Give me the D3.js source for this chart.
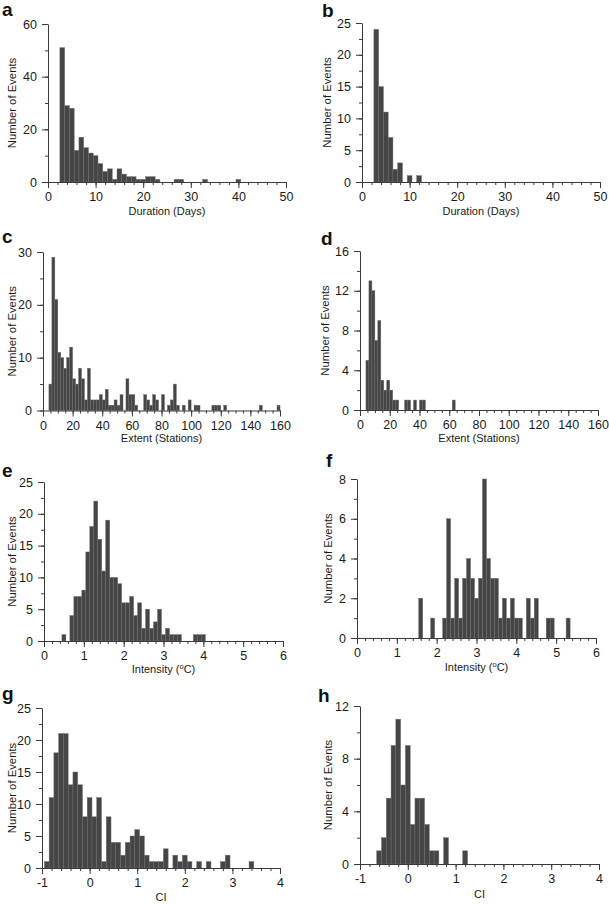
<!DOCTYPE html>
<html><head><meta charset="utf-8">
<script src="https://cdn.jsdelivr.net/npm/d3@7"></script>
<style>body{margin:0;background:#fff} svg{display:block}</style>
</head><body>
<svg id="chart" width="609" height="904"></svg>
<script>
// ---------- DATA (bin centres and counts) ----------
// a: Duration (Days), all events, bin width 1
const durationAllBins   = [3,4,5,6,7,8,9,10,11,12,13,14,15,16,17,18,19,20,21,22,23,27,28,33,40];
const durationAllCounts = [51,29,28,12,17,13,11,10,7,4,5,1,5,3,2,2,1,1,2,2,1,1,1,1,1];
// b: Duration (Days), subset, bin width 1
const durationSubBins   = [3,4,5,6,7,8,10,12];
const durationSubCounts = [24,15,11,7,2,3,1,1];
// c: Extent (Stations), all events, bin width 2
const extentAllBins   = [5,7,9,11,13,15,17,19,21,23,25,27,29,31,33,35,37,39,41,43,45,47,49,51,53,57,59,61,63,69,71,73,75,77,81,85,87,89,91,95,99,103,105,115,117,119,123,147,159];
const extentAllCounts = [5,29,21,11,10,8,10,12,6,5,8,6,2,8,2,2,2,3,2,4,1,1,2,1,3,6,3,3,1,3,2,1,3,2,3,1,2,5,1,1,2,1,1,1,1,1,1,1,1];
// d: Extent (Stations), subset, bin width 2
const extentSubBins   = [5,7,9,11,13,15,17,19,21,23,25,31,33,37,41,43,63];
const extentSubCounts = [5,13,12,7,9,3,2,3,2,1,1,1,1,1,1,1,1];
// e: Intensity (oC), all events, bin width 0.1
const intensityAllBins   = [0.5,0.7,0.8,0.9,1.0,1.1,1.2,1.3,1.4,1.5,1.6,1.7,1.8,1.9,2.0,2.1,2.2,2.3,2.4,2.5,2.6,2.7,2.8,2.9,3.0,3.1,3.2,3.3,3.4,3.8,3.9,4.0];
const intensityAllCounts = [1,4,7,7,8,14,18,22,16,11,19,10,10,9,6,6,7,4,6,2,5,2,3,5,1,2,1,1,1,1,1,1];
// f: Intensity (oC), subset, bin width 0.1
const intensitySubBins   = [1.6,1.9,2.2,2.3,2.4,2.5,2.6,2.7,2.8,2.9,3.0,3.1,3.2,3.3,3.4,3.5,3.6,3.7,3.8,3.9,4.0,4.1,4.3,4.4,4.5,4.8,4.9,5.3];
const intensitySubCounts = [2,1,1,6,1,3,1,3,4,3,2,3,8,4,3,3,1,2,1,2,1,1,2,1,2,1,1,1];
// g: CI, all events, bin width 0.1
const ciAllBins   = [-0.9,-0.8,-0.7,-0.6,-0.5,-0.4,-0.3,-0.2,-0.1,0.0,0.1,0.2,0.3,0.4,0.5,0.6,0.7,0.8,0.9,1.0,1.1,1.2,1.3,1.4,1.5,1.6,1.8,1.9,2.0,2.1,2.3,2.5,2.8,2.9,3.4];
const ciAllCounts = [1,11,18,21,21,13,15,13,8,11,8,11,1,8,4,4,2,4,5,6,5,2,1,1,1,3,2,1,2,1,1,1,1,2,1];
// h: CI, subset, bin width 0.1
const ciSubBins   = [-0.6,-0.5,-0.4,-0.3,-0.2,-0.1,0.0,0.1,0.2,0.3,0.4,0.5,0.6,0.8,1.2];
const ciSubCounts = [1,2,5,9,11,6,9,3,5,5,3,1,1,2,1];

// tick label sets
const durationTicks  = [0,10,20,30,40,50];
const extentTicks    = [0,20,40,60,80,100,120,140,160];
const intensityTicks = [0,1,2,3,4,5,6];
const ciTicks        = [-1,0,1,2,3,4];
const yTicksA = [0,20,40,60];
const yTicksB = [0,5,10,15,20,25];
const yTicksC = [0,10,20,30];
const yTicksD = [0,4,8,12,16];
const yTicksE = [0,5,10,15,20,25];
const yTicksF = [0,2,4,6,8];
const yTicksG = [0,5,10,15,20,25];
const yTicksH = [0,4,8,12];

// ---------- LAYOUT ----------
const FONT = "Arial, 'Liberation Sans', sans-serif";
const svg = d3.select("#chart");

function steps(a, b, s) {
  const n = Math.round((b - a) / s);
  return d3.range(n + 1).map(i => +(a + i * s).toFixed(6));
}

function panel(p) {
  const x = d3.scaleLinear().domain([p.xTicks[0], p.xTicks[p.xTicks.length-1]]).range([p.left, p.right]);
  const y = d3.scaleLinear().domain([0, p.yTicks[p.yTicks.length-1]]).range([p.bottom, p.top]);
  const g = svg.append("g");
  const data = p.bins.map((c, i) => ({c, n: p.counts[i]}));
  g.append("g").selectAll("rect").data(data).join("rect")
    .attr("x", d => x(d.c - p.bw/2))
    .attr("width", d => x(d.c + p.bw/2) - x(d.c - p.bw/2))
    .attr("y", d => y(d.n))
    .attr("height", d => y(0) - y(d.n))
    .attr("fill", "#454545")
    .attr("stroke", "#6c6c6c")
    .attr("stroke-width", 0.45);

  // minor ticks
  const xMinor = steps(x.domain()[0], x.domain()[1], p.xMinor);
  const yMinor = steps(0, y.domain()[1], p.yMinor);
  const axMinX = g.append("g").attr("transform", `translate(0,${p.bottom})`)
    .call(d3.axisBottom(x).tickValues(xMinor).tickSize(3).tickSizeOuter(0).tickFormat(""));
  axMinX.select(".domain").remove();
  const axMinY = g.append("g").attr("transform", `translate(${p.left},0)`)
    .call(d3.axisLeft(y).tickValues(yMinor).tickSize(3).tickSizeOuter(0).tickFormat(""));
  axMinY.select(".domain").remove();

  const ax = g.append("g").attr("transform", `translate(0,${p.bottom})`)
    .call(d3.axisBottom(x).tickValues(p.xTicks).tickSize(6).tickSizeOuter(0).tickPadding(4.5).tickFormat(d3.format("d")));
  const ay = g.append("g").attr("transform", `translate(${p.left},0)`)
    .call(d3.axisLeft(y).tickValues(p.yTicks).tickSize(6).tickSizeOuter(0).tickPadding(5).tickFormat(d3.format("d")));
  [ax, ay, axMinX, axMinY].forEach(a => {
    a.selectAll("line,path").attr("stroke", "#3a3a3a").attr("stroke-width", 1);
    a.selectAll("text").attr("font-family", FONT).attr("font-size", 12.5).attr("fill", "#1a1a1a");
  });
  ax.selectAll("text").text(d => d < 0 ? "-" + Math.abs(d) : d);

  // y title
  g.append("text")
    .attr("transform", `translate(${p.yTitleX},${(p.top + p.bottom)/2}) rotate(-90)`)
    .attr("text-anchor", "middle")
    .attr("font-family", FONT).attr("font-size", 11.3).attr("fill", "#1a1a1a")
    .text("Number of Events");
  // x title
  const xt = g.append("text")
    .attr("x", (p.left + p.right)/2).attr("y", p.bottom + p.xTitleDy)
    .attr("text-anchor", "middle")
    .attr("font-family", FONT).attr("font-size", 11).attr("fill", "#1a1a1a");
  if (p.xTitle === "intensity") {
    xt.append("tspan").text("Intensity (");
    xt.append("tspan").attr("font-size", 7.5).attr("dy", -4).text("o");
    xt.append("tspan").attr("dy", 4).text("C)");
  } else {
    xt.text(p.xTitle);
  }
  // panel letter
  g.append("text").attr("x", p.lx).attr("y", p.ly)
    .attr("font-family", FONT).attr("font-size", 19).attr("font-weight", "bold").attr("fill", "#111")
    .text(p.letter);
}

panel({letter:"a", lx:2, ly:16, bins:durationAllBins, counts:durationAllCounts, bw:1,
  xTicks:durationTicks, xMinor:2, yTicks:yTicksA, yMinor:10,
  left:48, right:286, top:24, bottom:182, yTitleX:16, xTitle:"Duration (Days)", xTitleDy:33});
panel({letter:"b", lx:322, ly:17, bins:durationSubBins, counts:durationSubCounts, bw:1,
  xTicks:durationTicks, xMinor:2, yTicks:yTicksB, yMinor:2.5,
  left:362, right:600, top:23, bottom:182, yTitleX:331, xTitle:"Duration (Days)", xTitleDy:33});
panel({letter:"c", lx:2, ly:243, bins:extentAllBins, counts:extentAllCounts, bw:2,
  xTicks:extentTicks, xMinor:5, yTicks:yTicksC, yMinor:5,
  left:43, right:280, top:252, bottom:410.5, yTitleX:16, xTitle:"Extent (Stations)", xTitleDy:31.5});
panel({letter:"d", lx:321, ly:245, bins:extentSubBins, counts:extentSubCounts, bw:2,
  xTicks:extentTicks, xMinor:5, yTicks:yTicksD, yMinor:2,
  left:360, right:598, top:251, bottom:410, yTitleX:329, xTitle:"Extent (Stations)", xTitleDy:31.5});
panel({letter:"e", lx:2, ly:477, bins:intensityAllBins, counts:intensityAllCounts, bw:0.1,
  xTicks:intensityTicks, xMinor:0.2, yTicks:yTicksE, yMinor:2.5,
  left:44, right:283, top:482, bottom:641, yTitleX:16, xTitle:"intensity", xTitleDy:31.5});
panel({letter:"f", lx:326, ly:467, bins:intensitySubBins, counts:intensitySubCounts, bw:0.1,
  xTicks:intensityTicks, xMinor:0.2, yTicks:yTicksF, yMinor:1,
  left:357, right:596, top:479, bottom:638, yTitleX:332, xTitle:"intensity", xTitleDy:33});
panel({letter:"g", lx:2, ly:700, bins:ciAllBins, counts:ciAllCounts, bw:0.1,
  xTicks:ciTicks, xMinor:0.2, yTicks:yTicksG, yMinor:2.5,
  left:42, right:280, top:708, bottom:868, yTitleX:16, xTitle:"CI", xTitleDy:33});
panel({letter:"h", lx:318, ly:702, bins:ciSubBins, counts:ciSubCounts, bw:0.1,
  xTicks:ciTicks, xMinor:0.2, yTicks:yTicksH, yMinor:2,
  left:360, right:599, top:706, bottom:864, yTitleX:332, xTitle:"CI", xTitleDy:34});
</script>
</body></html>
